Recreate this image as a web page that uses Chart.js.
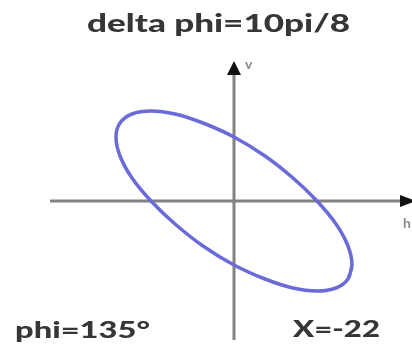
<!DOCTYPE html>
<html>
<head>
<meta charset="utf-8">
<script src="https://cdn.jsdelivr.net/npm/chart.js@4"></script>
<style>
  html, body { margin: 0; padding: 0; background: #ffffff; }
  #wrap { width: 412px; height: 346px; }
</style>
</head>
<body>
<div id="wrap"><canvas id="c" width="412" height="346"></canvas></div>
<script>
// Lissajous trace of the two signals (horizontal / vertical deflection)
const traceX = [118, 114, 102, 83, 59, 31, 0, -31, -59, -83, -102, -114,
                -118, -114, -102, -83, -59, -31, 0, 31, 59, 83, 102, 114];
const traceY = [-64, -78, -87, -90, -87, -78, -64, -45, -23, 0, 23, 45,
                64, 78, 87, 90, 87, 78, 64, 45, 23, 0, -23, -45];

// Texts
const titleText = 'delta phi=10pi/8';
const phaseText = 'phi=135°';
const offsetText = 'X=-22';
const vAxisName = 'v';
const hAxisName = 'h';

// Closed loop: wrap around so the spline joins smoothly
const tracePoints = traceX.map((x, i) => ({ x: x, y: traceY[i] }));
tracePoints.push(tracePoints[0], tracePoints[1]);

const FONT = 'Lato, "DejaVu Sans", sans-serif';

function stretchedText(ctx, text, left, baseline, size, width, color) {
  ctx.save();
  ctx.font = '900 ' + size + 'px ' + FONT;
  ctx.fillStyle = color;
  ctx.textBaseline = 'alphabetic';
  ctx.textAlign = 'left';
  const w = ctx.measureText(text).width;
  ctx.translate(left, baseline);
  ctx.scale(width / w, 1);
  ctx.fillText(text, 0, 0);
  ctx.restore();
}

const axesPlugin = {
  id: 'crossAxes',
  beforeDatasetsDraw(chart) {
    const ctx = chart.ctx;
    const sx = chart.scales.x, sy = chart.scales.y;
    const x0 = sx.getPixelForValue(0), y0 = sy.getPixelForValue(0);
    ctx.save();
    ctx.strokeStyle = '#828282';
    ctx.lineWidth = 3;
    // horizontal axis
    ctx.beginPath();
    ctx.moveTo(sx.getPixelForValue(-184), y0);
    ctx.lineTo(sx.getPixelForValue(168), y0);
    ctx.stroke();
    // vertical axis
    ctx.beginPath();
    ctx.moveTo(x0, sy.getPixelForValue(127));
    ctx.lineTo(x0, sy.getPixelForValue(-139));
    ctx.stroke();
    // arrow heads
    ctx.fillStyle = '#111111';
    const tipY = sy.getPixelForValue(140), baseY = sy.getPixelForValue(126);
    ctx.beginPath();
    ctx.moveTo(x0, tipY);
    ctx.lineTo(x0 - 7, baseY);
    ctx.lineTo(x0 + 7, baseY);
    ctx.closePath();
    ctx.fill();
    const baseX = sx.getPixelForValue(166), tipX = sx.getPixelForValue(182);
    ctx.beginPath();
    ctx.moveTo(tipX, y0);
    ctx.lineTo(baseX, y0 - 6);
    ctx.lineTo(baseX, y0 + 6);
    ctx.closePath();
    ctx.fill();
    // axis names
    ctx.fillStyle = '#8a8a8a';
    ctx.font = 'bold 14px ' + FONT;
    ctx.textBaseline = 'alphabetic';
    ctx.fillText(vAxisName, x0 + 11, sy.getPixelForValue(132));
    ctx.fillText(hAxisName, sx.getPixelForValue(169), sy.getPixelForValue(-27));
    ctx.restore();
  },
  afterDraw(chart) {
    const ctx = chart.ctx;
    stretchedText(ctx, titleText, 87, 32, 25, 263, '#363636');
    stretchedText(ctx, phaseText, 15, 338, 23, 135, '#363636');
    stretchedText(ctx, offsetText, 293, 337, 23, 87, '#363636');
  }
};

new Chart(document.getElementById('c'), {
  type: 'scatter',
  data: {
    datasets: [{
      data: tracePoints,
      showLine: true,
      tension: 0.4,
      borderColor: '#6a6ad8',
      borderWidth: 3.5,
      pointRadius: 0,
      fill: false
    }]
  },
  options: {
    responsive: false,
    animation: false,
    layout: { padding: 0 },
    plugins: { legend: { display: false }, tooltip: { enabled: false }, title: { display: false } },
    scales: {
      x: { type: 'linear', display: false, min: -234, max: 178 },
      y: { type: 'linear', display: false, min: -145, max: 201 }
    }
  },
  plugins: [axesPlugin]
});
</script>
</body>
</html>
